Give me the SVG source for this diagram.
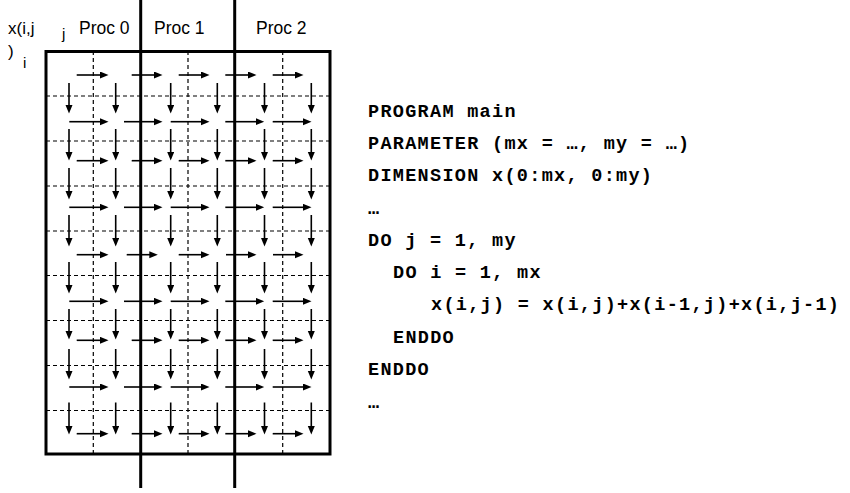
<svg xmlns="http://www.w3.org/2000/svg" width="850" height="493" viewBox="0 0 850 493">
<style>
.lbl{font-family:"Liberation Sans",Arial,sans-serif;fill:#000}
.code{font-family:"Liberation Mono","Courier New",monospace;font-weight:bold;font-size:18.5px;letter-spacing:1.3px;fill:#000}
.border{fill:none;stroke:#000;stroke-width:3}
.div{stroke:#000;stroke-width:3}
.dash{stroke:#000;stroke-width:1.2;stroke-dasharray:4 3;fill:none}
.a{stroke:#000;stroke-width:1.6;fill:none;marker-end:url(#ah)}
</style>
<defs>
<marker id="ah" markerUnits="userSpaceOnUse" markerWidth="10" markerHeight="8" refX="1" refY="3.5" orient="auto">
<path d="M0,0 L8.5,3.5 L0,7 z" fill="#000"/>
</marker>
</defs>
<rect width="850" height="493" fill="#fff"/>
<g id="header">
<text class="lbl" x="8" y="34" font-size="17">x(i,j</text>
<text class="lbl" x="8" y="57" font-size="17">)</text>
<text class="lbl" x="62" y="38.5" font-size="15">j</text>
<text class="lbl" x="23" y="68" font-size="15">i</text>
<text id="proc0" class="lbl" x="79" y="34" font-size="17.5">Proc 0</text>
<text id="proc1" class="lbl" x="154" y="34" font-size="17.5">Proc 1</text>
<text id="proc2" class="lbl" x="256" y="34" font-size="17.5">Proc 2</text>
</g>
<g id="grid">
<g class="dash">
<line x1="93.3" y1="51" x2="93.3" y2="454"/>
<line x1="188" y1="51" x2="188" y2="454"/>
<line x1="282.7" y1="51" x2="282.7" y2="454"/>
<line x1="46" y1="96" x2="330" y2="96"/>
<line x1="46" y1="141" x2="330" y2="141"/>
<line x1="46" y1="186" x2="330" y2="186"/>
<line x1="46" y1="231" x2="330" y2="231"/>
<line x1="46" y1="275.5" x2="330" y2="275.5"/>
<line x1="46" y1="320.5" x2="330" y2="320.5"/>
<line x1="46" y1="365.5" x2="330" y2="365.5"/>
<line x1="46" y1="410.5" x2="330" y2="410.5"/>
</g>
<rect class="border" x="46" y="51.5" width="284" height="402.5"/>
<line class="div" x1="140.7" y1="0" x2="140.7" y2="488"/>
<line class="div" x1="234.7" y1="0" x2="234.7" y2="488"/>
</g>
<g id="connectors">
<!-- horizontal arrows -->
<line class="a" x1="76.7" y1="75" x2="101" y2="75"/><line class="a" x1="131.7" y1="75" x2="155" y2="75"/><line class="a" x1="178.7" y1="75" x2="202" y2="75"/><line class="a" x1="225.3" y1="75" x2="249" y2="75"/><line class="a" x1="272.7" y1="75" x2="296" y2="75"/>
<line class="a" x1="69.3" y1="121.7" x2="101" y2="121.7"/><line class="a" x1="124" y1="121.7" x2="155" y2="121.7"/><line class="a" x1="170.7" y1="121.7" x2="202" y2="121.7"/><line class="a" x1="225.3" y1="121.7" x2="256.7" y2="121.7"/><line class="a" x1="272.7" y1="121.7" x2="304" y2="121.7"/>
<line class="a" x1="76.7" y1="160.7" x2="101" y2="160.7"/><line class="a" x1="131.7" y1="160.7" x2="155" y2="160.7"/><line class="a" x1="178.7" y1="160.7" x2="202" y2="160.7"/><line class="a" x1="225.3" y1="160.7" x2="249" y2="160.7"/><line class="a" x1="272.7" y1="160.7" x2="296" y2="160.7"/>
<line class="a" x1="69.3" y1="207.3" x2="101" y2="207.3"/><line class="a" x1="124" y1="207.3" x2="155" y2="207.3"/><line class="a" x1="170.7" y1="207.3" x2="202" y2="207.3"/><line class="a" x1="225.3" y1="207.3" x2="256.7" y2="207.3"/><line class="a" x1="272.7" y1="207.3" x2="304" y2="207.3"/>
<line class="a" x1="76.7" y1="254.7" x2="101" y2="254.7"/><line class="a" x1="126.7" y1="254.7" x2="150.3" y2="254.7"/><line class="a" x1="178.7" y1="254.7" x2="202" y2="254.7"/><line class="a" x1="226" y1="254.7" x2="249" y2="254.7"/><line class="a" x1="273" y1="254.7" x2="296" y2="254.7"/>
<line class="a" x1="69.3" y1="301.3" x2="101" y2="301.3"/><line class="a" x1="124" y1="301.3" x2="155" y2="301.3"/><line class="a" x1="170.7" y1="301.3" x2="202" y2="301.3"/><line class="a" x1="225.3" y1="301.3" x2="256.7" y2="301.3"/><line class="a" x1="272.7" y1="301.3" x2="304" y2="301.3"/>
<line class="a" x1="76.7" y1="340.3" x2="101" y2="340.3"/><line class="a" x1="131.7" y1="340.3" x2="155" y2="340.3"/><line class="a" x1="178.7" y1="340.3" x2="202" y2="340.3"/><line class="a" x1="225.3" y1="340.3" x2="249" y2="340.3"/><line class="a" x1="272.7" y1="340.3" x2="296" y2="340.3"/>
<line class="a" x1="69.3" y1="387" x2="101" y2="387"/><line class="a" x1="124" y1="387" x2="155" y2="387"/><line class="a" x1="170.7" y1="387" x2="202" y2="387"/><line class="a" x1="225.3" y1="387" x2="256.7" y2="387"/><line class="a" x1="272.7" y1="387" x2="304" y2="387"/>
<line class="a" x1="76.7" y1="433.7" x2="101" y2="433.7"/><line class="a" x1="131.7" y1="433.7" x2="155" y2="433.7"/><line class="a" x1="178.7" y1="433.7" x2="202" y2="433.7"/><line class="a" x1="225.3" y1="433.7" x2="249" y2="433.7"/><line class="a" x1="272.7" y1="433.7" x2="296" y2="433.7"/>
<!-- vertical arrows -->
<line class="a" x1="69" y1="83" x2="69" y2="106"/><line class="a" x1="115.7" y1="83" x2="115.7" y2="106"/><line class="a" x1="170.7" y1="83" x2="170.7" y2="106"/><line class="a" x1="217.3" y1="83" x2="217.3" y2="106"/><line class="a" x1="264.5" y1="83" x2="264.5" y2="106"/><line class="a" x1="311.3" y1="83" x2="311.3" y2="106"/>
<line class="a" x1="69" y1="129" x2="69" y2="153"/><line class="a" x1="115.7" y1="129" x2="115.7" y2="153"/><line class="a" x1="170.7" y1="129" x2="170.7" y2="153"/><line class="a" x1="217.3" y1="129" x2="217.3" y2="153"/><line class="a" x1="264.5" y1="129" x2="264.5" y2="153"/><line class="a" x1="311.3" y1="129" x2="311.3" y2="153"/>
<line class="a" x1="69" y1="168" x2="69" y2="192"/><line class="a" x1="115.7" y1="168" x2="115.7" y2="192"/><line class="a" x1="170.7" y1="168" x2="170.7" y2="192"/><line class="a" x1="217.3" y1="168" x2="217.3" y2="192"/><line class="a" x1="264.5" y1="168" x2="264.5" y2="192"/><line class="a" x1="311.3" y1="168" x2="311.3" y2="192"/>
<line class="a" x1="69" y1="215" x2="69" y2="239"/><line class="a" x1="115.7" y1="215" x2="115.7" y2="239"/><line class="a" x1="170.7" y1="215" x2="170.7" y2="239"/><line class="a" x1="217.3" y1="215" x2="217.3" y2="239"/><line class="a" x1="264.5" y1="215" x2="264.5" y2="239"/><line class="a" x1="311.3" y1="215" x2="311.3" y2="239"/>
<line class="a" x1="69" y1="262" x2="69" y2="286"/><line class="a" x1="115.7" y1="262" x2="115.7" y2="286"/><line class="a" x1="170.7" y1="262" x2="170.7" y2="286"/><line class="a" x1="217.3" y1="262" x2="217.3" y2="286"/><line class="a" x1="264.5" y1="262" x2="264.5" y2="286"/><line class="a" x1="311.3" y1="262" x2="311.3" y2="286"/>
<line class="a" x1="69" y1="309" x2="69" y2="332"/><line class="a" x1="115.7" y1="309" x2="115.7" y2="332"/><line class="a" x1="170.7" y1="309" x2="170.7" y2="332"/><line class="a" x1="217.3" y1="309" x2="217.3" y2="332"/><line class="a" x1="264.5" y1="309" x2="264.5" y2="332"/><line class="a" x1="311.3" y1="309" x2="311.3" y2="332"/>
<line class="a" x1="69" y1="349" x2="69" y2="372"/><line class="a" x1="115.7" y1="349" x2="115.7" y2="372"/><line class="a" x1="170.7" y1="349" x2="170.7" y2="372"/><line class="a" x1="217.3" y1="349" x2="217.3" y2="372"/><line class="a" x1="264.5" y1="349" x2="264.5" y2="372"/><line class="a" x1="311.3" y1="349" x2="311.3" y2="372"/>
<line class="a" x1="69" y1="402.5" x2="69" y2="427"/><line class="a" x1="115.7" y1="402.5" x2="115.7" y2="427"/><line class="a" x1="170.7" y1="402.5" x2="170.7" y2="427"/><line class="a" x1="217.3" y1="402.5" x2="217.3" y2="427"/><line class="a" x1="264.5" y1="402.5" x2="264.5" y2="427"/><line class="a" x1="311.3" y1="402.5" x2="311.3" y2="427"/>
</g>
<g id="code">
<text class="code" x="368" y="116.5">PROGRAM main</text>
<text class="code" x="368" y="148.8">PARAMETER (mx = …, my = …)</text>
<text class="code" x="368" y="181.2">DIMENSION x(0:mx, 0:my)</text>
<text class="code" x="368" y="213.5">…</text>
<text class="code" x="368" y="245.8">DO j = 1, my</text>
<text class="code" x="393" y="278">DO i = 1, mx</text>
<text class="code" x="431" y="310.3">x(i,j) = x(i,j)+x(i-1,j)+x(i,j-1)</text>
<text class="code" x="393" y="342.7">ENDDO</text>
<text class="code" x="368" y="375">ENDDO</text>
<text class="code" x="368" y="407.5">…</text>
</g>
</svg>
